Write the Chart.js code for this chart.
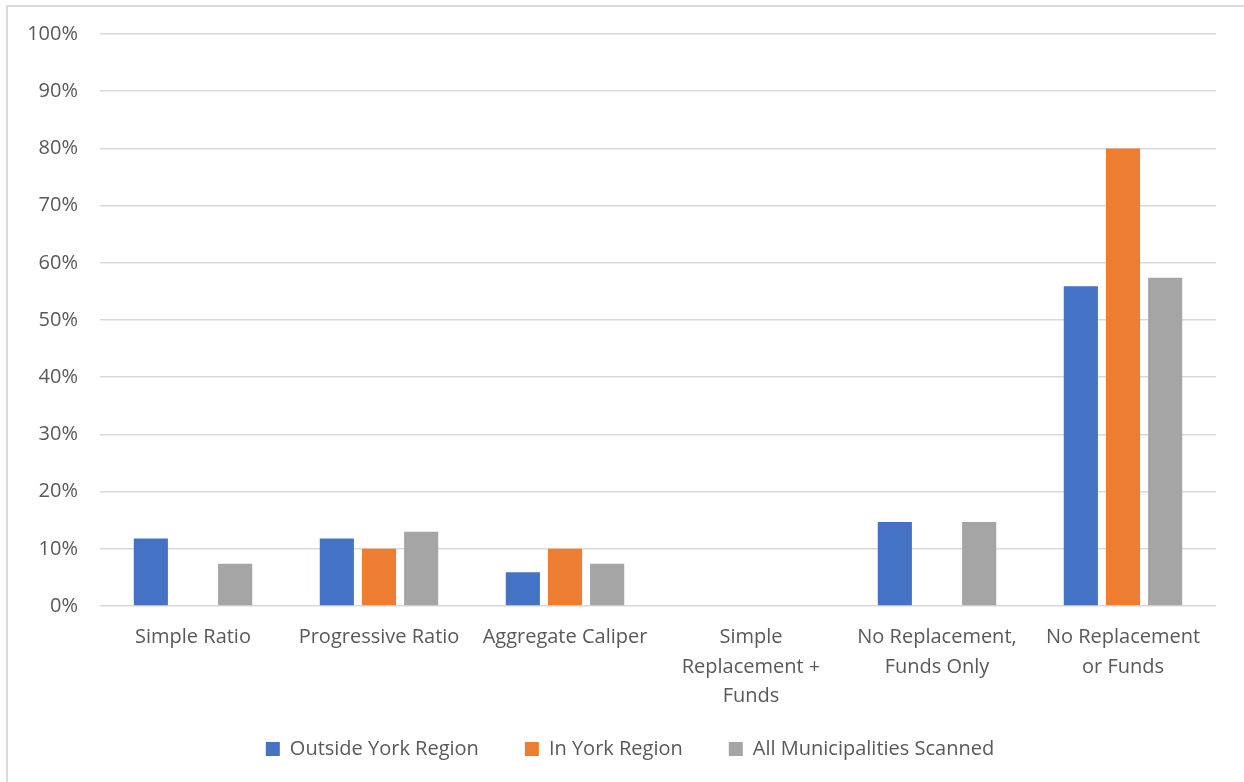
<!DOCTYPE html>
<html lang="en">
<head>
    <meta charset="UTF-8">
    <title>Replacement policies</title>
    <script src="https://cdn.jsdelivr.net/npm/chart.js"></script>
    <style>
        body { margin: 0; background: #fff; }
        #wrap { width: 1244px; height: 782px; }
    </style>
</head>
<body>
    <div id="wrap"><canvas id="myChart" width="1244" height="782"></canvas></div>
    <script>
        const labels = [
          'Simple Ratio',
          'Progressive Ratio',
          'Aggregate Caliper',
          ['Simple', 'Replacement +', 'Funds'],
          ['No Replacement,', 'Funds Only'],
          ['No Replacement', 'or Funds']
        ];
        const seriesNames = ['Outside York Region', 'In York Region', 'All Municipalities Scanned'];
        const outsideYork = [11.8, 11.8, 5.9, 0, 14.7, 55.9];
        const inYork = [0, 10, 10, 0, 0, 80];
        const allScanned = [7.4, 13, 7.4, 0, 14.7, 57.4];
        const yTicks = [0, 10, 20, 30, 40, 50, 60, 70, 80, 90, 100];

        const colors = ['#4472c4', '#ed7d31', '#a5a5a5'];
        const fontFamily = '"Open Sans", "Liberation Sans", sans-serif';

        // thin frame on the left and top edges
        const frame = {
          id: 'frame',
          beforeDraw(chart) {
            const ctx = chart.ctx;
            ctx.save();
            ctx.strokeStyle = '#d9d9d9';
            ctx.lineWidth = 2;
            ctx.beginPath();
            ctx.moveTo(7, 782);
            ctx.lineTo(7, 6);
            ctx.lineTo(1244, 6);
            ctx.stroke();
            ctx.restore();
          },
          // legend sits a little right of the plot centre
          afterLayout(chart) {
            chart.legend.left += 12;
            chart.legend.right += 12;
          }
        };

        const data = {
          labels: labels,
          datasets: [outsideYork, inYork, allScanned].map((vals, i) => ({
            label: seriesNames[i],
            data: vals,
            backgroundColor: colors[i],
            categoryPercentage: 0.68,
            barPercentage: 0.81
          }))
        };

        const config = {
          type: 'bar',
          data: data,
          plugins: [frame],
          options: {
            responsive: false,
            animation: false,
            layout: { padding: { left: 20, right: 28, top: 28, bottom: 13 } },
            plugins: {
              tooltip: { enabled: false },
              legend: {
                position: 'bottom',
                labels: {
                  color: '#595959',
                  font: { family: fontFamily, size: 20 },
                  boxWidth: 14,
                  boxHeight: 14,
                  padding: 46
                }
              }
            },
            scales: {
              x: {
                grid: { display: false, drawTicks: false },
                border: { display: false },
                ticks: {
                  color: '#595959',
                  font: { family: fontFamily, size: 20, lineHeight: 1.475 },
                  maxRotation: 0,
                  autoSkip: false,
                  padding: 17
                },
                afterFit(scale) {
                  scale.height = 87;
                  // three-line labels run into the legend's padding, so don't clip them
                  scale._computeLabelArea = () => undefined;
                }
              },
              y: {
                min: 0,
                max: 100,
                afterBuildTicks(scale) { scale.ticks = yTicks.map(v => ({ value: v })); },
                grid: { color: '#d9d9d9', lineWidth: 1.5, drawTicks: false },
                border: { display: false },
                ticks: {
                  color: '#595959',
                  font: { family: fontFamily, size: 20 },
                  padding: 22,
                  callback: v => v + '%'
                },
                afterFit(scale) { scale.width = 80; }
              }
            }
          }
        };

        const myChart = new Chart(document.getElementById('myChart'), config);
    </script>
</body>
</html>
